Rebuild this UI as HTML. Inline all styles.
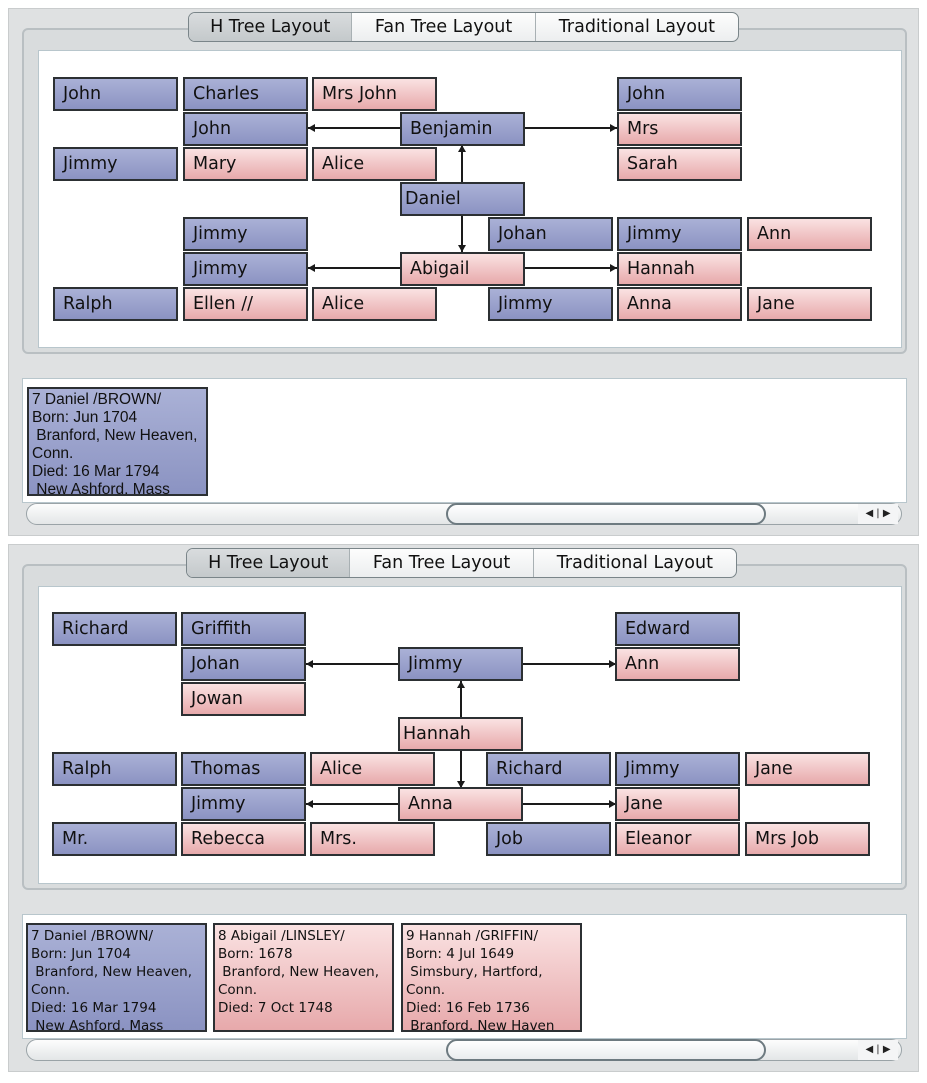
<!DOCTYPE html>
<html><head><meta charset="utf-8"><style>
*{margin:0;padding:0;box-sizing:border-box}
body{width:927px;height:1083px;background:#fff;position:relative;overflow:hidden;font-family:"DejaVu Sans","Liberation Sans",sans-serif}
.win{position:absolute;left:8px;width:911px;background:#dfe1e2;border:1px solid #c9cccd}
.grp{position:absolute;left:22px;width:885px;border:2px solid #b9bfc2;border-radius:6px;background:#d9dcdd}
.white{position:absolute;background:#fff;border:1px solid #b8c6cc}
.tabs{position:absolute;left:188px;width:551px;height:30px;border:1px solid #7a8589;border-radius:7px;background:linear-gradient(#fdfdfd,#eceeef);display:flex;overflow:hidden;font-size:17.5px;color:#111}
.tabs div{display:flex;align-items:center;justify-content:center;border-left:1px solid #a8b0b3}
.tabs div:first-child{border-left:none;background:linear-gradient(#d9dcde,#c4c9cb)}
.b{position:absolute;width:125px;height:34px;border:2px solid #2c3033;font-size:17.5px;line-height:30px;padding-left:8px;color:#111;white-space:nowrap}
.bl{background:linear-gradient(#aab1d6,#8b93c2)}
.pk{background:linear-gradient(#fae2e2,#e7a9ab)}
.h{position:absolute;height:2px;background:#1a1a1a}
.v{position:absolute;width:2px;background:#1a1a1a}
.al{position:absolute;width:0;height:0;border-top:4px solid transparent;border-bottom:4px solid transparent;border-right:7px solid #1a1a1a}
.ar{position:absolute;width:0;height:0;border-top:4px solid transparent;border-bottom:4px solid transparent;border-left:7px solid #1a1a1a}
.au{position:absolute;width:0;height:0;border-left:4px solid transparent;border-right:4px solid transparent;border-bottom:7px solid #1a1a1a}
.ad{position:absolute;width:0;height:0;border-left:4px solid transparent;border-right:4px solid transparent;border-top:7px solid #1a1a1a}
.card{position:absolute;width:181px;height:109px;border:2px solid #2c3033;font-size:13.5px;line-height:18px;padding:2px 0 0 3px;overflow:hidden;color:#111;white-space:nowrap}
.nar{font-family:"Liberation Sans Narrow","Liberation Sans",sans-serif;font-size:15.5px}
.sb{position:absolute;left:26px;width:876px;height:22px;border-radius:11px;background:linear-gradient(#fdfdfd,#e3e6e7);border:1px solid #9aa3a7}
.th{position:absolute;left:446px;width:320px;height:22px;border-radius:11px;border:2px solid #6d7a80;background:linear-gradient(#fff,#e9ecee)}
.btn{position:absolute;font-size:10px;color:#222;width:40px;height:20px;line-height:20px;text-align:center;background:#f4f5f6}
</style></head><body>

<!-- TOP -->
<div class="win" style="top:8px;height:528px"></div>
<div class="grp" style="top:28px;height:326px"></div>
<div class="white" style="top:50px;left:38px;width:864px;height:298px"></div>
<div class="tabs" style="top:12px"><div style="width:163px">H Tree Layout</div><div style="width:184px">Fan Tree Layout</div><div style="width:204px">Traditional Layout</div></div>
<div class="white" style="top:378px;left:22px;width:885px;height:125px"></div>
<div class="sb" style="top:503px"></div><div class="th" style="top:503px"></div>
<div class="btn" style="left:858px;top:504px">◀ | ▶</div>

<div class="h" style="left:308px;top:127px;width:92px"></div><div class="al" style="left:308px;top:124px"></div>
<div class="h" style="left:525px;top:127px;width:92px"></div><div class="ar" style="left:610px;top:124px"></div>
<div class="v" style="left:461px;top:145px;height:107px"></div><div class="au" style="left:458px;top:145px"></div><div class="ad" style="left:458px;top:245px"></div>
<div class="h" style="left:308px;top:267px;width:92px"></div><div class="al" style="left:308px;top:264px"></div>
<div class="h" style="left:525px;top:267px;width:92px"></div><div class="ar" style="left:610px;top:264px"></div>

<div class="b bl" style="left:53px;top:77px">John</div>
<div class="b bl" style="left:183px;top:77px">Charles</div>
<div class="b pk" style="left:312px;top:77px">Mrs John</div>
<div class="b bl" style="left:617px;top:77px">John</div>
<div class="b bl" style="left:183px;top:112px">John</div>
<div class="b bl" style="left:400px;top:112px">Benjamin</div>
<div class="b pk" style="left:617px;top:112px">Mrs</div>
<div class="b bl" style="left:53px;top:147px">Jimmy</div>
<div class="b pk" style="left:183px;top:147px">Mary</div>
<div class="b pk" style="left:312px;top:147px">Alice</div>
<div class="b pk" style="left:617px;top:147px">Sarah</div>
<div class="b bl" style="left:400px;top:182px;padding-left:3px">Daniel</div>
<div class="b bl" style="left:183px;top:217px">Jimmy</div>
<div class="b bl" style="left:488px;top:217px">Johan</div>
<div class="b bl" style="left:617px;top:217px">Jimmy</div>
<div class="b pk" style="left:747px;top:217px">Ann</div>
<div class="b bl" style="left:183px;top:252px">Jimmy</div>
<div class="b pk" style="left:400px;top:252px">Abigail</div>
<div class="b pk" style="left:617px;top:252px">Hannah</div>
<div class="b bl" style="left:53px;top:287px">Ralph</div>
<div class="b pk" style="left:183px;top:287px">Ellen //</div>
<div class="b pk" style="left:312px;top:287px">Alice</div>
<div class="b bl" style="left:488px;top:287px">Jimmy</div>
<div class="b pk" style="left:617px;top:287px">Anna</div>
<div class="b pk" style="left:747px;top:287px">Jane</div>

<div class="card bl nar" style="left:27px;top:387px">7 Daniel /BROWN/<br>Born: Jun 1704<br>&nbsp;Branford, New Heaven,<br>Conn.<br>Died: 16 Mar 1794<br>&nbsp;New Ashford, Mass</div>

<!-- BOTTOM -->
<div class="win" style="top:544px;height:528px"></div>
<div class="grp" style="top:564px;height:326px"></div>
<div class="white" style="top:586px;left:38px;width:864px;height:298px"></div>
<div class="tabs" style="top:548px;left:186px"><div style="width:163px">H Tree Layout</div><div style="width:184px">Fan Tree Layout</div><div style="width:204px">Traditional Layout</div></div>
<div class="white" style="top:914px;left:22px;width:885px;height:125px"></div>
<div class="sb" style="top:1039px"></div><div class="th" style="top:1039px"></div>
<div class="btn" style="left:858px;top:1040px">◀ | ▶</div>

<div class="h" style="left:306px;top:663px;width:94px"></div><div class="al" style="left:306px;top:660px"></div>
<div class="h" style="left:523px;top:663px;width:94px"></div><div class="ar" style="left:609px;top:660px"></div>
<div class="v" style="left:460px;top:681px;height:37px"></div><div class="au" style="left:457px;top:681px"></div>
<div class="v" style="left:460px;top:751px;height:37px"></div><div class="ad" style="left:457px;top:781px"></div>
<div class="h" style="left:306px;top:803px;width:94px"></div><div class="al" style="left:306px;top:800px"></div>
<div class="h" style="left:523px;top:803px;width:94px"></div><div class="ar" style="left:609px;top:800px"></div>

<div class="b bl" style="left:52px;top:612px">Richard</div>
<div class="b bl" style="left:181px;top:612px">Griffith</div>
<div class="b bl" style="left:615px;top:612px">Edward</div>
<div class="b bl" style="left:181px;top:647px">Johan</div>
<div class="b bl" style="left:398px;top:647px">Jimmy</div>
<div class="b pk" style="left:615px;top:647px">Ann</div>
<div class="b pk" style="left:181px;top:682px">Jowan</div>
<div class="b pk" style="left:398px;top:717px;padding-left:3px">Hannah</div>
<div class="b bl" style="left:52px;top:752px">Ralph</div>
<div class="b bl" style="left:181px;top:752px">Thomas</div>
<div class="b pk" style="left:310px;top:752px">Alice</div>
<div class="b bl" style="left:486px;top:752px">Richard</div>
<div class="b bl" style="left:615px;top:752px">Jimmy</div>
<div class="b pk" style="left:745px;top:752px">Jane</div>
<div class="b bl" style="left:181px;top:787px">Jimmy</div>
<div class="b pk" style="left:398px;top:787px">Anna</div>
<div class="b pk" style="left:615px;top:787px">Jane</div>
<div class="b bl" style="left:52px;top:822px">Mr.</div>
<div class="b pk" style="left:181px;top:822px">Rebecca</div>
<div class="b pk" style="left:310px;top:822px">Mrs.</div>
<div class="b bl" style="left:486px;top:822px">Job</div>
<div class="b pk" style="left:615px;top:822px">Eleanor</div>
<div class="b pk" style="left:745px;top:822px">Mrs Job</div>

<div class="card bl" style="left:26px;top:923px">7 Daniel /BROWN/<br>Born: Jun 1704<br>&nbsp;Branford, New Heaven,<br>Conn.<br>Died: 16 Mar 1794<br>&nbsp;New Ashford, Mass</div>
<div class="card pk" style="left:213px;top:923px">8 Abigail /LINSLEY/<br>Born: 1678<br>&nbsp;Branford, New Heaven,<br>Conn.<br>Died: 7 Oct 1748</div>
<div class="card pk" style="left:401px;top:923px">9 Hannah /GRIFFIN/<br>Born: 4 Jul 1649<br>&nbsp;Simsbury, Hartford,<br>Conn.<br>Died: 16 Feb 1736<br>&nbsp;Branford, New Haven</div>
</body></html>
